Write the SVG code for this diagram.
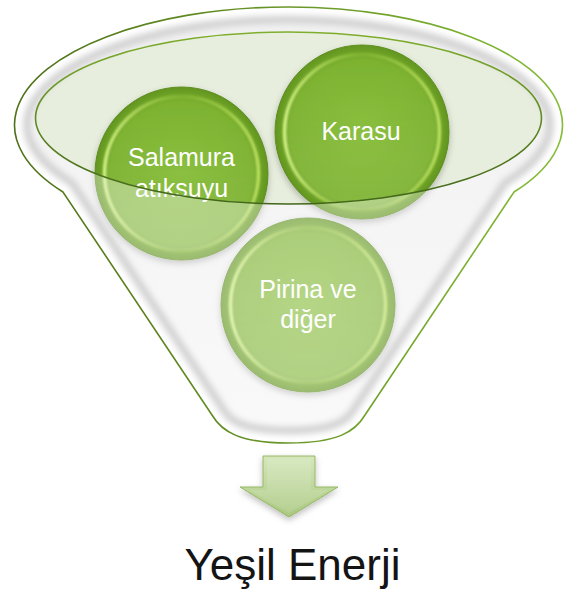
<svg xmlns="http://www.w3.org/2000/svg" width="567" height="591" viewBox="0 0 567 591">
  <defs>
    <style>
      .disk { fill: url(#gDisk); stroke: #5e8e1e; stroke-width: 1; filter: url(#shadow); }
      .hl { fill: url(#gInner); stroke: url(#gRim); stroke-width: 3.5; filter: url(#soft); }
      .nt { font-family: "Liberation Sans", Arial, sans-serif; font-size: 25px; fill: #ffffff; text-anchor: middle; }
      .big { font-family: "Liberation Sans", Arial, sans-serif; font-size: 44px; fill: #141414; text-anchor: middle; }
    </style>
    <path id="funnelPath" d="M 63,192 A 274 118 0 1 1 514,192 L 365,415 C 355,432 337,443 288.5,443 C 240,443 222,432 212,415 Z"/>
    <clipPath id="fc"><use href="#funnelPath"/></clipPath>
    <linearGradient id="gBody" x1="0" y1="0" x2="0" y2="1">
      <stop offset="0" stop-color="#e8e8e8"/>
      <stop offset="1" stop-color="#f7f7f7"/>
    </linearGradient>
    <linearGradient id="gOutline" gradientUnits="userSpaceOnUse" x1="0" y1="0" x2="567" y2="0">
      <stop offset="0" stop-color="#4d6f18"/>
      <stop offset="1" stop-color="#84bd36"/>
    </linearGradient>
    <linearGradient id="gEllStroke" x1="0" y1="0" x2="0" y2="1">
      <stop offset="0" stop-color="#7fae2c"/>
      <stop offset="1" stop-color="#42661a"/>
    </linearGradient>
    <radialGradient id="gDisk" cx="0.5" cy="0.5" r="0.5">
      <stop offset="0" stop-color="#86bc38"/>
      <stop offset="0.82" stop-color="#7cb22f"/>
      <stop offset="1" stop-color="#629520"/>
    </radialGradient>
    <linearGradient id="gInner" x1="0" y1="0" x2="0" y2="1">
      <stop offset="0" stop-color="#ffffff" stop-opacity="0"/>
      <stop offset="1" stop-color="#ffffff" stop-opacity="0.08"/>
    </linearGradient>
    <linearGradient id="gRim" x1="0" y1="0" x2="1" y2="0">
      <stop offset="0" stop-color="#d6f48a" stop-opacity="0.95"/>
      <stop offset="0.5" stop-color="#a8d64a" stop-opacity="0.25"/>
      <stop offset="1" stop-color="#c6ea66" stop-opacity="0.85"/>
    </linearGradient>
    <linearGradient id="gArrow" x1="0" y1="0" x2="0" y2="1">
      <stop offset="0" stop-color="#d4e7bb"/>
      <stop offset="1" stop-color="#a9c77e"/>
    </linearGradient>
    <filter id="shadow" x="-20%" y="-20%" width="140%" height="140%">
      <feDropShadow dx="0" dy="3" stdDeviation="3" flood-color="#000" flood-opacity="0.25"/>
    </filter>
    <filter id="soft"><feGaussianBlur stdDeviation="0.8"/></filter>
    <filter id="blur3"><feGaussianBlur stdDeviation="3"/></filter>
  </defs>

  <!-- funnel body -->
  <g id="funnel">
    <use href="#funnelPath" fill="url(#gBody)"/>
    <ellipse cx="288.5" cy="118" rx="253" ry="86" fill="#e7eede"/>
  </g>

  <!-- nodes -->
  <g id="node-salamura">
    <circle class="disk" cx="181.5" cy="173.5" r="86.5"/>
    <circle class="hl" cx="181.5" cy="173.5" r="77"/>
    <text class="nt" x="181.5" y="166">Salamura</text>
    <text class="nt" x="181.5" y="197">atıksuyu</text>
  </g>
  <g id="node-karasu">
    <circle class="disk" cx="362" cy="132" r="87"/>
    <circle class="hl" cx="362" cy="132" r="77.5"/>
    <text class="nt" x="361" y="140">Karasu</text>
  </g>
  <g id="node-pirina">
    <circle class="disk" cx="308" cy="305" r="87"/>
    <circle class="hl" cx="308" cy="305" r="77.5"/>
    <text class="nt" x="308" y="298">Pirina ve</text>
    <text class="nt" x="308" y="328">diğer</text>
  </g>

  <!-- funnel front (translucent cone + rim) -->
  <g id="funnel-front">
    <path fill="#ffffff" fill-opacity="0.36" fill-rule="evenodd"
      d="M 63,192 A 274 118 0 1 1 514,192 L 365,415 C 355,432 337,443 288.5,443 C 240,443 222,432 212,415 Z M 35.5,118 A 253 86 0 1 0 541.5,118 A 253 86 0 1 0 35.5,118 Z"/>
    <g clip-path="url(#fc)">
      <g filter="url(#blur3)">
        <use href="#funnelPath" fill="none" stroke="#cfcfcf" stroke-width="32"/>
        <use href="#funnelPath" fill="none" stroke="#ffffff" stroke-width="17"/>
      </g>
    </g>
    <ellipse cx="288.5" cy="118" rx="253" ry="86" fill="none" stroke="url(#gEllStroke)" stroke-width="1.6"/>
    <use href="#funnelPath" fill="none" stroke="url(#gOutline)" stroke-width="1.6"/>
  </g>

  <!-- connectors -->
  <g id="connectors">
    <path d="M 263,456 H 315 V 487 H 338 L 289,517 L 240,487 H 263 Z" fill="url(#gArrow)" stroke="#97b866" stroke-width="1" filter="url(#shadow)"/>
    <path d="M 267,459 H 311 V 490 H 329 L 289,513 L 249,490 H 267 Z" fill="#ffffff" fill-opacity="0.12"/>
  </g>

  <g id="label">
    <text class="big" x="292.5" y="580">Yeşil Enerji</text>
  </g>
</svg>
